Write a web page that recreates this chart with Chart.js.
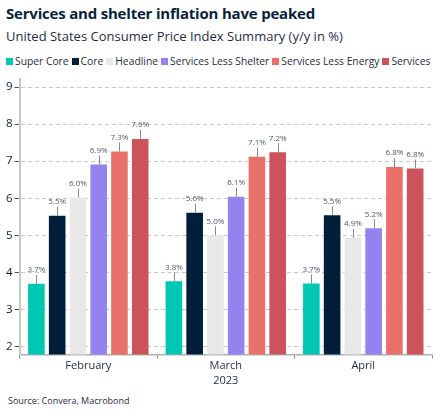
<!DOCTYPE html>
<html><head><meta charset="utf-8">
<script src="https://cdn.jsdelivr.net/npm/chart.js@4/dist/chart.umd.min.js"></script>
<style>
html,body{margin:0;padding:0;background:#fff;width:445px;height:416px;overflow:hidden;font-family:"Open Sans",sans-serif;}
#title{position:absolute;left:6px;top:3px;font-size:15px;font-weight:700;color:#0b1f3a;letter-spacing:-0.2px;white-space:nowrap;}
#sub{position:absolute;left:6px;top:27px;font-size:13px;color:#1f2d44;white-space:nowrap;}
#legend{position:absolute;left:6px;top:54px;font-size:10.3px;color:#1f2d44;white-space:nowrap;display:flex;}
#legend span.it{display:flex;align-items:center;margin-right:3px;}
#legend span.bx{display:inline-block;width:7px;height:7px;margin-right:2px;}
#src{position:absolute;left:8px;top:394px;font-size:9px;color:#1f2d44;}
#wrap{position:absolute;left:0;top:70px;width:445px;height:317px;}
</style></head>
<body>
<div id="title">Services and shelter inflation have peaked</div>
<div id="sub">United States Consumer Price Index Summary (y/y in %)</div>
<div id="legend"></div>
<div id="src">Source: Convera, Macrobond</div>
<div id="wrap"><canvas id="c"></canvas></div>
<script>
const categories = ["February", "March", "April"];
const axisTitle = "2023";
const seriesNames = ["Super Core", "Core", "Headline", "Services Less Shelter", "Services Less Energy", "Services"];
const superCore = [3.69, 3.76, 3.70];
const core = [5.53, 5.61, 5.54];
const headline = [6.02, 5.00, 4.93];
const servicesLessShelter = [6.91, 6.04, 5.19];
const servicesLessEnergy = [7.26, 7.12, 6.84];
const services = [7.60, 7.24, 6.80];
const labelsSuperCore = ["3.7%", "3.8%", "3.7%"];
const labelsCore = ["5.5%", "5.6%", "5.5%"];
const labelsHeadline = ["6.0%", "5.0%", "4.9%"];
const labelsSLS = ["6.9%", "6.1%", "5.2%"];
const labelsSLE = ["7.3%", "7.1%", "6.8%"];
const labelsServices = ["7.6%", "7.2%", "6.8%"];
const yTicks = [2, 3, 4, 5, 6, 7, 8, 9];
const colors = ["#00c7b4", "#001e38", "#e8e8e8", "#9682ee", "#e9716a", "#cc525c"];

const allValues = [superCore, core, headline, servicesLessShelter, servicesLessEnergy, services];
const allLabels = [labelsSuperCore, labelsCore, labelsHeadline, labelsSLS, labelsSLE, labelsServices];

const leg = document.getElementById('legend');
seriesNames.forEach((n, i) => {
  const it = document.createElement('span'); it.className = 'it';
  const b = document.createElement('span'); b.className = 'bx'; b.style.background = colors[i];
  it.appendChild(b); it.appendChild(document.createTextNode(n)); leg.appendChild(it);
});

const valueLabels = {
  id: 'valueLabels',
  afterDatasetsDraw(chart) {
    const ctx = chart.ctx;
    ctx.save();
    chart.data.datasets.forEach((ds, di) => {
      const meta = chart.getDatasetMeta(di);
      meta.data.forEach((bar, i) => {
        const x = bar.x, y = bar.y;
        ctx.strokeStyle = '#8a8a8a'; ctx.lineWidth = 1;
        ctx.beginPath(); ctx.moveTo(Math.round(x) + 0.5, y); ctx.lineTo(Math.round(x) + 0.5, y - 9); ctx.stroke();
        ctx.fillStyle = '#4a5670';
        ctx.font = '8px "Open Sans", sans-serif';
        ctx.textAlign = 'center'; ctx.textBaseline = 'bottom';
        ctx.fillText(allLabels[di][i], x, y - 10);
      });
    });
    ctx.restore();
  }
};

new Chart(document.getElementById('c'), {
  type: 'bar',
  data: {
    labels: categories,
    datasets: seriesNames.map((n, i) => ({
      label: n, data: allValues[i], backgroundColor: colors[i],
      borderWidth: 0,
      categoryPercentage: 0.906, barPercentage: 0.80
    }))
  },
  options: {
    responsive: true, maintainAspectRatio: false, animation: false,
    layout: { padding: { left: 4, right: 13, top: 7, bottom: 0 } },
    plugins: { legend: { display: false }, tooltip: { enabled: false } },
    scales: {
      x: {
        grid: { display: true, drawOnChartArea: false, drawTicks: true, tickLength: 4, offset: true, color: '#888' },
        border: { color: '#b0b0b0', width: 1.5 },
        ticks: { color: '#1f2d44', font: { family: '"Open Sans", sans-serif', size: 11 }, padding: 1 },
        title: { display: true, text: axisTitle, color: '#1f2d44', font: { family: '"Open Sans", sans-serif', size: 11 }, padding: { top: 0, bottom: 0 } }
      },
      y: {
        min: 1.78, max: 9.22,
        afterBuildTicks(scale) { scale.ticks = yTicks.map(v => ({ value: v })); },
        grid: { color: '#c8c8c8', tickColor: '#555', tickLength: 5, lineWidth: 1, tickBorderDash: [] },
        border: { color: '#c8c8c8', width: 2, dash: [4, 3] },
        ticks: { color: '#0b1f3a', font: { family: '"Open Sans", sans-serif', size: 11.5 }, padding: 2 }
      }
    }
  },
  plugins: [valueLabels]
});
</script>
</body></html>
